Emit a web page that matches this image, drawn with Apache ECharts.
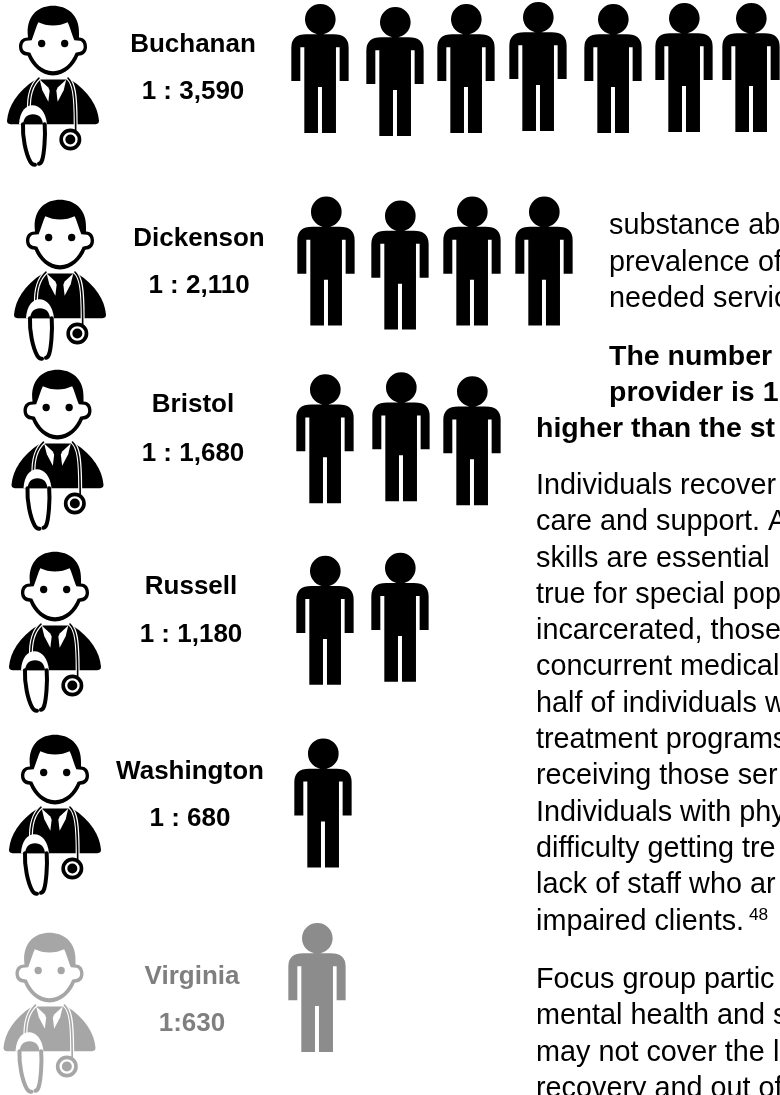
<!DOCTYPE html>
<html lang="en">
<head>
<meta charset="UTF-8">
<title>Providers per population</title>
<script src="https://cdn.jsdelivr.net/npm/echarts@6/dist/echarts.min.js"></script>
<style>
    * { margin: 0; padding: 0; }
    body { background: #fff; overflow: hidden; }
    #main { width: 780px; height: 1095px; }
</style>
</head>
<body>
<div id="main"></div>
<script>
    // data
    var counties = ['Buchanan', 'Dickenson', 'Bristol', 'Russell', 'Washington', 'Virginia'];
    var ratioLabels = ['1 : 3,590', '1 : 2,110', '1 : 1,680', '1 : 1,180', '1 : 680', '1:630'];
    var peopleCounts = [7, 4, 3, 2, 1, 1];

    // the text column on the right, cut off by the page edge in the original
    var introLines = ['substance ab', 'prevalence of', 'needed servic'];
    var boldLines = ['The number', 'provider is 1', 'higher than the st'];
    var bodyLines = ['Individuals recover', 'care and support. A', 'skills are essential', 'true for special pop',
        'incarcerated, those', 'concurrent medical', 'half of individuals w', 'treatment programs',
        'receiving those ser', 'Individuals with phy', 'difficulty getting tre', 'lack of staff who ar',
        'impaired clients.'];
    var focusLines = ['Focus group partic', 'mental health and s', 'may not cover the l', 'recovery and out of'];

    // hand placement: the original figures are not on a strict grid (pixels)
    var personNudge = [
        [[0, 0], [3, 3], [2, 0], [2, -2], [5, 0], [4, -1], [-1, -1]],
        [[6, 9], [8, 13], [8, 9], [8, 9]],
        [[5, 3], [9, 1], [8, 5]],
        [[5, 1], [8, -2]],
        [[3, 0]],
        [[-3, 1]]
    ];
    var doctorCentre = [[53, 86], [60, 280], [57.5, 450], [55, 632], [55, 815], [49.5, 1013]];
    var labelCentre = [[193, 45, 92], [199, 239, 286], [193, 405, 454], [191, 587, 635], [190, 772, 819], [192, 977, 1024]];

    var personPath = 'path://M41 45a46 46 0 1 1 92 0a46 46 0 1 1-92 0zM45 90H127Q172 90 172 130V231H145V129H134V387H92V249H80V387H39V129H27V231H0V130Q0 90 45 90Z';

    function circle(cx, cy, r) {
        return 'M' + (cx - r) + ' ' + cy + 'a' + r + ' ' + r + ' 0 1 1 ' + (2 * r) + ' 0a' + r + ' ' + r + ' 0 1 1 ' + (-2 * r) + ' 0z';
    }

    // doctor icon, layers in a 320x510 frame, painted in order
    // kind: d = fill ink, w = fill white, ws/ds = white / ink stroke
    var doctorLayers = [
        ['d', 'M84 100C82 42 120 17 160 17C200 17 240 42 238 100L238 112C255 112 262 125 262 140C262 158 250 167 236 167C224 197 196 226 160 226C124 226 96 197 84 167C70 167 58 158 58 140C58 125 65 112 85 112Z'],
        ['w', 'M160 76C175 76 192 72 204 66C210 78 216 100 224 120L240 122C250 124 252 134 252 140C252 150 245 156 234 156L228 158C215 190 192 213 160 213C128 213 105 190 92 158L86 156C75 156 68 150 68 140C68 134 70 124 80 122L96 120C104 100 110 78 116 66C128 72 145 76 160 76Z'],
        ['d', circle(126, 130, 11)],
        ['d', circle(195, 130, 11)],
        ['d', 'M22 362C26 318 52 274 108 238L212 238C268 274 294 318 298 362Q298 372 288 372L32 372Q22 372 22 362Z'],
        ['w', 'M120 238L146 262L150 272L146 305L128 270Z'],
        ['w', 'M200 238L174 262L170 272L174 305L192 270Z'],
        ['ws', 'M118 234C98 252 86 280 88 330', 4],
        ['ds', 'M118 234C98 252 86 280 88 330', 1.6],
        ['ws', 'M205 234C222 250 228 280 228 372', 4],
        ['ds', 'M205 234C222 250 228 280 228 390', 1.6],
        ['w', 'M58 372C60 334 78 315 98 315C120 315 138 334 142 372Z'],
        ['d', 'M70 372C72 352 82 342 100 342C118 342 128 352 130 372Z'],
        ['ds', 'M70 372C68 410 78 460 92 485Q98 495 106 494', 4],
        ['ds', 'M135 372C138 410 133 460 128 478Q124 490 118 491', 4],
        ['d', circle(212, 418, 33)],
        ['w', circle(212, 418, 22)],
        ['d', circle(212, 418, 15)]
    ];

    var rows = counties.map(function (name, r) { return [r]; });

    var peopleData = [];
    peopleCounts.forEach(function (n, r) {
        for (var i = 0; i < n; i++) {
            peopleData.push({
                value: [i, r],
                symbolOffset: personNudge[r][i],
                itemStyle: { color: counties[r] === 'Virginia' ? '#8c8c8c' : '#000', opacity: 1 }
            });
        }
    });

    function renderRow(params, api) {
        var r = api.value(0);
        var grey = counties[r] === 'Virginia';
        var ink = grey ? '#a6a6a6' : '#000';
        // frame scaled to 1/3 so it sits at 106.7 x 170 px
        var children = doctorLayers.map(function (l) {
            var stroke = l[0].length === 2;
            var colour = l[0].charAt(0) === 'w' ? '#fff' : ink;
            return {
                type: 'path',
                shape: {
                    pathData: 'M0 0M320 510' + l[1],
                    x: doctorCentre[r][0] - 160 / 3, y: doctorCentre[r][1] - 257.5 / 3,
                    width: 320 / 3, height: 170, layout: 'cover'
                },
                style: stroke
                    ? { fill: null, stroke: colour, lineWidth: l[2], lineCap: 'round' }
                    : { fill: colour }
            };
        });
        var textColour = grey ? '#7f7f7f' : '#000';
        children.push({
            type: 'text',
            style: { x: labelCentre[r][0], y: labelCentre[r][1], text: counties[r], font: 'bold 26px "Liberation Sans"', fill: textColour, align: 'center', verticalAlign: 'middle' }
        }, {
            type: 'text',
            style: { x: labelCentre[r][0], y: labelCentre[r][2], text: ratioLabels[r], font: 'bold 26px "Liberation Sans"', fill: textColour, align: 'center', verticalAlign: 'middle' }
        });
        return { type: 'group', children: children };
    }

    function textBlock(lines, x, y0, font) {
        return lines.map(function (s, i) {
            var px = Array.isArray(x) ? x[i] : x;
            return {
                type: 'text',
                style: { x: px, y: y0 + i * 36.3, text: s, font: font, fill: '#000', verticalAlign: 'middle' }
            };
        });
    }

    var bodyFont = '28.8px "Liberation Sans"';
    var boldFont = 'bold 28.5px "Liberation Sans"';
    var textElements = []
        .concat(textBlock(introLines, 609, 226.5, bodyFont))
        .concat(textBlock(boldLines, [609, 609, 536], 357, boldFont))
        .concat(textBlock(bodyLines, 536, 486, bodyFont))
        .concat(textBlock(focusLines, 536, 980, bodyFont));
    textElements.push({
        type: 'text',
        style: { x: 749, y: 915, text: '48', font: '17.3px "Liberation Sans"', fill: '#000', verticalAlign: 'middle' }
    });

    var myChart = echarts.init(document.getElementById('main'));
    myChart.setOption({
        animation: false,
        backgroundColor: '#fff',
        grid: { left: 0, right: 0, top: 0, bottom: 0 },
        xAxis: { type: 'value', min: -4.444, max: 6.389, show: false },
        yAxis: { type: 'value', min: -0.373, max: 5.591, inverse: true, show: false },
        graphic: { elements: textElements },
        series: [
            {
                type: 'custom',
                renderItem: renderRow,
                data: rows,
                encode: { y: 0 },
                clip: false,
                silent: true
            },
            {
                type: 'scatter',
                symbol: personPath,
                symbolSize: [57.3, 129],
                symbolKeepAspect: false,
                data: peopleData,
                silent: true
            }
        ]
    });
</script>
</body>
</html>
